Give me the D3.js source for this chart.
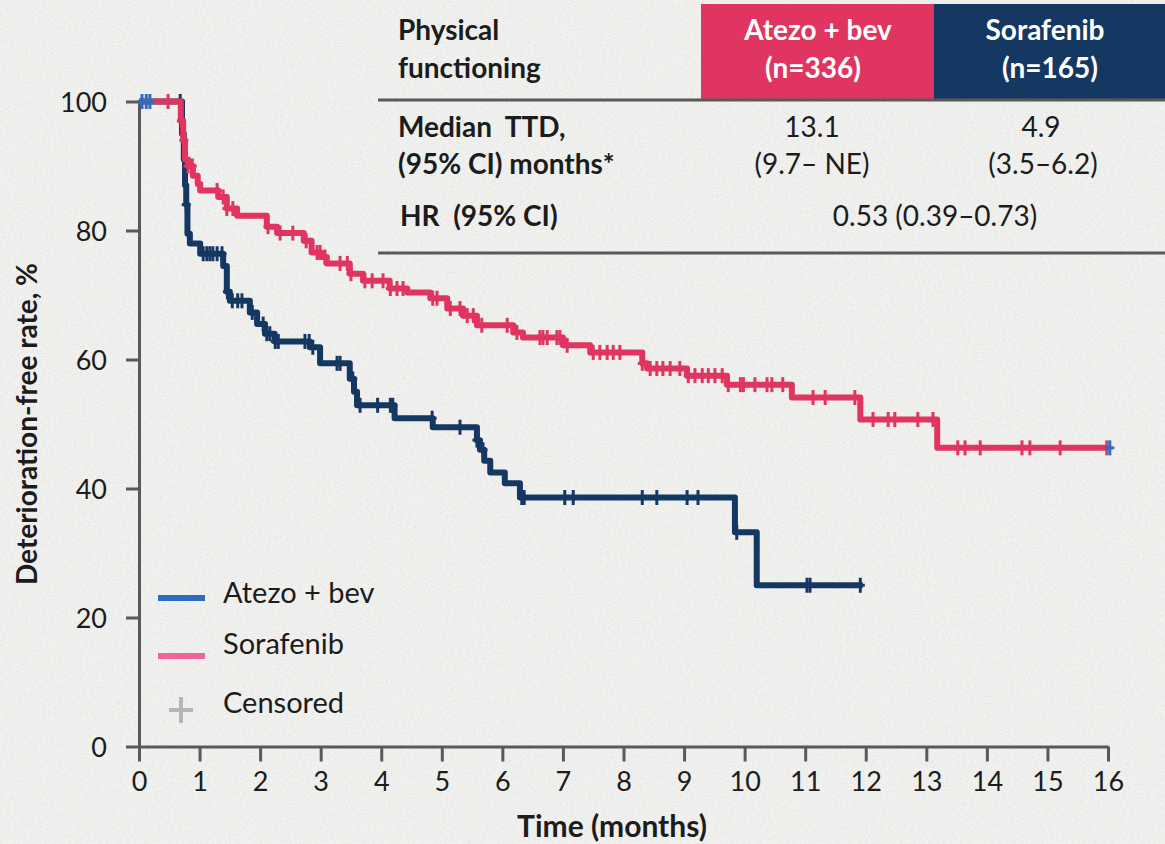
<!DOCTYPE html>
<html>
<head>
<meta charset="utf-8">
<script src="https://cdn.jsdelivr.net/npm/d3@7"></script>
<style>
  html, body { margin: 0; padding: 0; background: #f2f2f0; }
  svg { display: block; font-family: Lato, "Noto Sans", sans-serif; }
</style>
</head>
<body>
<svg id="chart" width="1165" height="844"></svg>
<script>
// ---- Kaplan–Meier steps: [month, % deterioration-free after that time] ----
const atezoSteps = [
  [0, 100], [0.69, 97], [0.73, 94], [0.76, 91], [0.81, 90], [0.89, 88.5],
  [0.97, 87.2], [1.01, 86.2], [1.31, 85.2], [1.45, 83.4], [1.62, 82.3],
  [2.11, 80.6], [2.28, 79.6], [2.72, 78.4], [2.85, 76.6], [3.00, 75.9],
  [3.10, 74.9], [3.48, 73.3], [3.70, 72.2], [4.14, 71.0], [4.43, 70.4],
  [4.81, 69.5], [5.09, 67.9], [5.35, 66.8], [5.58, 65.3], [6.18, 64.2],
  [6.34, 63.4], [7.00, 62.2], [7.45, 61.1], [8.31, 59.4], [8.39, 58.6],
  [9.05, 57.5], [9.71, 56.1], [10.78, 54.1], [11.91, 50.7], [13.18, 46.3]
];
const atezoEnd = 16.0;

const sorafenibSteps = [
  [0, 100], [0.71, 95], [0.74, 91], [0.76, 87], [0.78, 84], [0.80, 79.5],
  [0.84, 78.0], [1.01, 76.4], [1.39, 74.5], [1.45, 70.5], [1.50, 69.1],
  [1.83, 67.3], [1.95, 65.5], [2.08, 64.0], [2.24, 62.8], [2.82, 61.9],
  [2.99, 59.4], [3.48, 57.0], [3.55, 55.0], [3.60, 52.9], [4.22, 50.9],
  [4.85, 49.5], [5.58, 47.5], [5.63, 46.0], [5.70, 44.3], [5.80, 42.5],
  [6.04, 40.8], [6.29, 38.6], [9.84, 33.2], [10.20, 25.0]
];
const sorafenibEnd = 11.95;

// ---- censoring times (months) ----
const atezoCensor = [
  0.48, 0.70, 0.74, 0.81, 0.88, 1.29, 1.39, 1.45, 1.55, 2.13, 2.33, 2.54, 2.76,
  2.94, 2.99, 3.07, 3.32, 3.44, 3.50, 3.73, 3.85, 4.03, 4.15, 4.26, 4.36, 4.85,
  4.92, 5.14, 5.30, 5.42, 5.52, 5.66, 6.08, 6.24, 6.62, 6.67, 6.74, 6.90, 6.95,
  7.07, 7.50, 7.61, 7.73, 7.83, 7.94, 8.31, 8.44, 8.55, 8.65, 8.77, 8.93, 9.07,
  9.18, 9.30, 9.40, 9.51, 9.63, 9.73, 9.93, 9.98, 10.17, 10.37, 10.45, 10.63,
  11.13, 11.33, 11.82, 12.12, 12.37, 12.48, 12.86, 13.11, 13.52, 13.64, 13.89,
  14.58, 14.71, 15.21, 15.98
];
const sorafenibCensor = [
  0.68, 0.78, 1.06, 1.12, 1.17, 1.22, 1.29, 1.37, 1.46, 1.54, 1.63, 1.70, 1.87,
  2.05, 2.11, 2.16, 2.25, 2.30, 2.74, 2.81, 2.87, 3.27, 3.32, 3.53, 3.65, 3.94,
  4.15, 4.19, 4.84, 5.30, 5.58, 5.68, 6.32, 6.36, 7.03, 7.17, 8.31, 8.55, 9.05,
  9.23, 9.87, 11.03, 11.08, 11.91
];
// light-blue censor ticks lying on the upper curve
const lightCensor = [0.05, 0.12, 0.18, 16.03];

// ---- axes / labels ----
const xTicks = d3.range(0, 17);
const yTicks = [0, 20, 40, 60, 80, 100];
const xTitle = "Time (months)";
const yTitle = "Deterioration-free rate, %";

// ---- legend (as printed) ----
const legendLabels = ["Atezo + bev", "Sorafenib", "Censored"];

// ---- summary table ----
const tableTitle = ["Physical", "functioning"];
const armHeaders = [["Atezo + bev", "(n=336)"], ["Sorafenib", "(n=165)"]];
const medianLabel = ["Median\u00a0\u00a0TTD,", "(95% CI) months*"];
const medianValues = [["13.1", "(9.7– NE)"], ["4.9", "(3.5–6.2)"]];
const hrLabel = "HR\u00a0\u00a0(95% CI)";
const hrValue = "0.53 (0.39–0.73)";

// ---- colours ----
const PINK = "#e03560";
const NAVY = "#143862";
const LEG_BLUE = "#2f6cc0";
const LEG_PINK = "#f0639c";
const AXIS = "#595959";
const TEXT = "#1c1c1c";

const svg = d3.select("#chart");

// paper-like background
const defs = svg.append("defs");
const f = defs.append("filter").attr("id", "paper").attr("x", 0).attr("y", 0)
  .attr("width", "100%").attr("height", "100%");
f.append("feTurbulence").attr("type", "fractalNoise")
  .attr("baseFrequency", "0.35 0.9").attr("numOctaves", 2).attr("seed", 7);
f.append("feColorMatrix").attr("type", "matrix")
  .attr("values", "0 0 0 0 0.45  0 0 0 0 0.45  0 0 0 0 0.44  0 0 0 -1.6 0.95");
svg.append("rect").attr("width", 1165).attr("height", 844).attr("fill", "#f1f1ef");
svg.append("rect").attr("width", 1165).attr("height", 844).attr("filter", "url(#paper)").attr("opacity", 0.24);

const x = d3.scaleLinear().domain([0, 16]).range([139, 1108]);
const y = d3.scaleLinear().domain([0, 100]).range([746.5, 101.5]);

// ---- axes ----
const yAxis = svg.append("g").attr("transform", `translate(${x(0)},0)`)
  .call(d3.axisLeft(y).tickValues(yTicks).tickSize(13).tickSizeOuter(0).tickPadding(19));
const xAxis = svg.append("g").attr("transform", `translate(0,${y(0)})`)
  .call(d3.axisBottom(x).tickValues(xTicks).tickSize(15).tickSizeOuter(0));

[yAxis, xAxis].forEach(g => {
  g.select(".domain").attr("stroke", AXIS).attr("stroke-width", 3);
  g.selectAll(".tick line").attr("stroke", AXIS).attr("stroke-width", 3);
  g.selectAll(".tick text").attr("fill", TEXT).style("font-size", "27px")
    .style("font-family", "Lato, 'Noto Sans', sans-serif");
});
yAxis.selectAll(".tick text").attr("dy", "0.36em");
xAxis.selectAll(".tick text").attr("y", 44).attr("dy", 0);

svg.append("text").attr("x", 612).attr("y", 837).attr("text-anchor", "middle")
  .attr("fill", TEXT).style("font-size", "30px").style("font-weight", 700).text(xTitle);
svg.append("text").attr("transform", "translate(37,424) rotate(-90)")
  .attr("text-anchor", "middle").attr("fill", TEXT)
  .style("font-size", "28px").style("font-weight", 700).text(yTitle);

// ---- curves ----
function valueAt(steps, t) {
  let v = steps[0][1];
  for (const [tt, vv] of steps) if (tt <= t) v = vv;
  return v;
}
const line = d3.line().x(d => x(d[0])).y(d => y(d[1])).curve(d3.curveStepAfter);

function drawArm(steps, end, censor, color) {
  const pts = steps.concat([[end, steps[steps.length - 1][1]]]);
  svg.append("path").datum(pts).attr("d", line).attr("fill", "none")
    .attr("stroke", color).attr("stroke-width", 6)
    .attr("stroke-linejoin", "round").attr("stroke-linecap", "butt");
  drawCensor(steps, censor, color);
}
function drawCensor(steps, times, color) {
  const g = svg.append("g").attr("stroke", color).attr("stroke-width", 3);
  times.forEach(t => {
    const cx = x(t), cy = y(valueAt(steps, t));
    g.append("line").attr("x1", cx).attr("x2", cx).attr("y1", cy - 7.5).attr("y2", cy + 7.5);
    g.append("line").attr("x1", cx - 4.5).attr("x2", cx + 4.5).attr("y1", cy).attr("y2", cy);
  });
}

drawArm(sorafenibSteps, sorafenibEnd, sorafenibCensor, NAVY);
drawArm(atezoSteps, atezoEnd, atezoCensor, PINK);
drawCensor(atezoSteps, lightCensor, LEG_BLUE);

// ---- legend ----
const leg = svg.append("g");
const legY = [598, 656, 710];
leg.append("line").attr("x1", 158).attr("x2", 205).attr("y1", legY[0]).attr("y2", legY[0])
  .attr("stroke", LEG_BLUE).attr("stroke-width", 6);
leg.append("line").attr("x1", 158).attr("x2", 205).attr("y1", legY[1]).attr("y2", legY[1])
  .attr("stroke", LEG_PINK).attr("stroke-width", 6);
leg.append("line").attr("x1", 169).attr("x2", 193).attr("y1", legY[2]).attr("y2", legY[2])
  .attr("stroke", "#b5b5b5").attr("stroke-width", 4);
leg.append("line").attr("x1", 181).attr("x2", 181).attr("y1", legY[2] - 13).attr("y2", legY[2] + 13)
  .attr("stroke", "#b5b5b5").attr("stroke-width", 4);
const legTextY = [603, 654, 713];
legendLabels.forEach((s, i) => {
  leg.append("text").attr("x", 223).attr("y", legTextY[i]).attr("fill", TEXT)
    .style("font-size", "29px").text(s);
});

// ---- summary table ----
const tbl = svg.append("g").attr("fill", TEXT);
tbl.append("rect").attr("x", 701).attr("y", 4).attr("width", 233).attr("height", 95).attr("fill", PINK);
tbl.append("rect").attr("x", 934).attr("y", 4).attr("width", 231).attr("height", 95).attr("fill", NAVY);
tbl.append("line").attr("x1", 378).attr("x2", 1165).attr("y1", 100).attr("y2", 100)
  .attr("stroke", AXIS).attr("stroke-width", 3);
tbl.append("line").attr("x1", 378).attr("x2", 1165).attr("y1", 253).attr("y2", 253)
  .attr("stroke", AXIS).attr("stroke-width", 3);

const bold = sel => sel.style("font-size", "28px").style("font-weight", 700);
const reg = sel => sel.style("font-size", "28px").style("font-weight", 400);

tableTitle.forEach((s, i) =>
  tbl.append("text").attr("x", 398).attr("y", 40 + i * 38).call(bold).text(s));

const headX = [[818, 813], [1045, 1050]];
armHeaders.forEach((h, j) => h.forEach((s, i) =>
  tbl.append("text").attr("x", headX[j][i]).attr("y", 40 + i * 38)
    .attr("text-anchor", "middle").attr("fill", "#ffffff").call(bold).text(s)));

medianLabel.forEach((s, i) =>
  tbl.append("text").attr("x", 398).attr("y", 137 + i * 37).call(bold).text(s));

const valX = [[812, 812], [1041, 1043]];
medianValues.forEach((v, j) => v.forEach((s, i) =>
  tbl.append("text").attr("x", valX[j][i]).attr("y", 137 + i * 37)
    .attr("text-anchor", "middle").call(reg).text(s)));

tbl.append("text").attr("x", 400).attr("y", 226).call(bold).text(hrLabel);
tbl.append("text").attr("x", 935).attr("y", 226).attr("text-anchor", "middle")
  .call(reg).text(hrValue);
</script>
</body>
</html>
